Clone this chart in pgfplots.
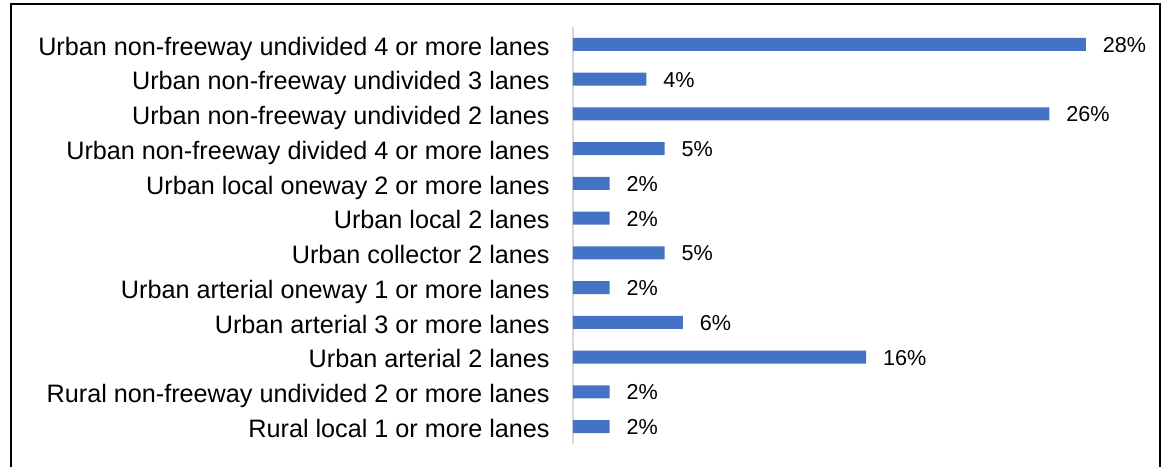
\documentclass[border=0pt]{standalone}
\usepackage{pgfplots}
\pgfplotsset{compat=1.18}
\usepackage{fontspec}
\setmainfont{Liberation Sans}
\definecolor{barblue}{HTML}{4472C4}
\definecolor{axisgray}{HTML}{D9D9D9}

\pgfplotstableread{
idx value
0  28
1  4
2  26
3  5
4  2
5  2
6  5
7  2
8  6
9  16
10 2
11 2
}\shares

\begin{document}
\begin{tikzpicture}
\useasboundingbox (-286.5pt,-11pt) rectangle (296pt,222pt);
% outer frame (runs past the lower edge)
\draw[line width=1pt, black] (-281pt,-20pt) -- (-281pt,220pt) -- (293.5pt,220pt) -- (293.5pt,-20pt);
\begin{axis}[
  at={(0pt,0pt)}, anchor=south west,
  scale only axis,
  width=274.8pt, height=208.5pt,
  xbar, bar width=6.5pt,
  xmin=0, xmax=30,
  ymin=-0.5, ymax=11.5,
  y dir=reverse,
  axis x line=none,
  axis y line*=left,
  y axis line style={draw=axisgray, line width=0.6pt},
  ytick={0,...,11},
  yticklabels={
    Urban non-freeway undivided 4 or more lanes,
    Urban non-freeway undivided 3 lanes,
    Urban non-freeway undivided 2 lanes,
    Urban non-freeway divided 4 or more lanes,
    Urban local oneway 2 or more lanes,
    Urban local 2 lanes,
    Urban collector 2 lanes,
    Urban arterial oneway 1 or more lanes,
    Urban arterial 3 or more lanes,
    Urban arterial 2 lanes,
    Rural non-freeway undivided 2 or more lanes,
    Rural local 1 or more lanes},
  major tick length=0pt,
  yticklabel style={anchor=base east, inner sep=0pt, xshift=-11.5pt, yshift=-5.4pt,
    font=\fontsize{12.6}{15}\selectfont, text=black},
  nodes near coords={\pgfmathprintnumber[assume math mode=true]{\pgfplotspointmeta}\%},
  every node near coord/.append style={anchor=base west, inner sep=0pt, xshift=8.3pt, yshift=-4pt,
    font=\fontsize{10.8}{13}\selectfont, text=black},
  clip=false,
]
\addplot[fill=barblue, draw=none] table[x=value, y=idx] {\shares};
\end{axis}
\end{tikzpicture}
\end{document}
